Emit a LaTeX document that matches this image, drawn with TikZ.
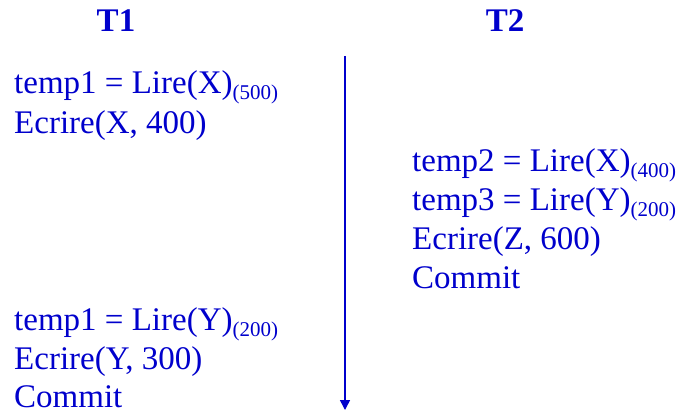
\documentclass[tikz,border=0pt]{standalone}
\usepackage{fontspec}
\setmainfont{Liberation Serif}
\usepackage{xcolor}
\usetikzlibrary{arrows.meta}
\definecolor{opblue}{HTML}{0000CC}
\newcommand{\val}[1]{\raisebox{-6pt}{\fontsize{21}{21}\selectfont(#1)}}

\begin{document}
\begin{tikzpicture}[x=1pt,y=-1pt,
  op/.style={anchor=base west,inner sep=0pt,text=opblue,font=\fontsize{33}{33}\selectfont},
  trans/.style={anchor=base,inner sep=0pt,text=opblue,font=\fontsize{33}{33}\selectfont\bfseries}]
\useasboundingbox (0,0) rectangle (679,412);
\node[trans] (t1) at (116,32) {T1};
\node[trans] (t2) at (505,32) {T2};
% T1
\node[op] (r1) at (14,93) {temp1 = Lire(X)\val{500}};
\node[op] (w1) at (14,133) {Ecrire(X, 400)};
% T2
\node[op] (r2) at (412,171) {temp2 = Lire(X)\val{400}};
\node[op] (r3) at (412,210) {temp3 = Lire(Y)\val{200}};
\node[op] (w2) at (412,249) {Ecrire(Z, 600)};
\node[op] (c2) at (412,288) {Commit};
% T1 again
\node[op] (r4) at (14,330) {temp1 = Lire(Y)\val{200}};
\node[op] (w3) at (14,369) {Ecrire(Y, 300)};
\node[op] (c1) at (14,407) {Commit};
% time axis
\coordinate (top) at (345,56);
\coordinate (bot) at (345,410);
\draw[opblue,line width=1.5pt,-{Triangle[width=10pt,length=10pt]}] (top) -- (bot);
\end{tikzpicture}
\end{document}
